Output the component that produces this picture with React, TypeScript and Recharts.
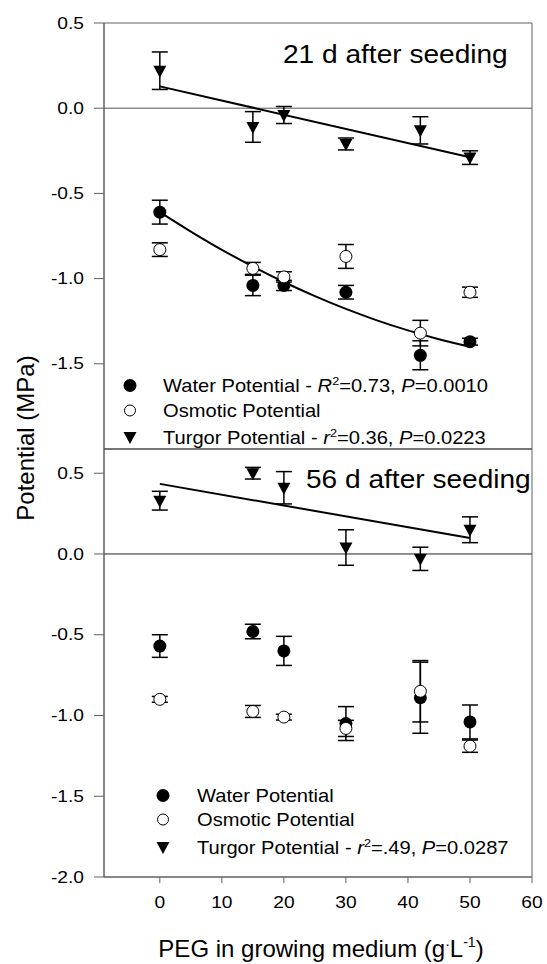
import React from 'react';
import {
  ComposedChart,
  Scatter,
  Line,
  XAxis,
  YAxis,
  ErrorBar,
  ReferenceLine,
  ReferenceArea,
} from 'recharts';

// PEG concentration (g/L)
const peg = [0, 15, 20, 30, 42, 50];

// 21 d after seeding
const water21 = [-0.61, -1.04, -1.04, -1.08, -1.45, -1.37];
const water21Err = [0.07, 0.06, 0.03, 0.04, 0.085, 0.02];
const osmotic21 = [-0.83, -0.94, -0.99, -0.87, -1.32, -1.08];
const osmotic21Err = [0.04, 0.035, 0.03, 0.07, 0.075, 0.03];
const turgor21 = [0.22, -0.11, -0.04, -0.21, -0.13, -0.29];
const turgor21Err = [0.11, 0.09, 0.05, 0.035, 0.08, 0.04];

// 56 d after seeding
const water56 = [-0.57, -0.48, -0.6, -1.05, -0.89, -1.04];
const water56Err = [0.07, 0.045, 0.09, 0.105, 0.22, 0.105];
const osmotic56 = [-0.9, -0.975, -1.01, -1.08, -0.85, -1.19];
const osmotic56Err = [0.018, 0.037, 0.018, 0.05, 0.19, 0.038];
const turgor56 = [0.33, 0.5, 0.41, 0.04, -0.03, 0.15];
const turgor56Err = [0.058, 0.036, 0.1, 0.11, 0.072, 0.08];

// fitted lines
const waterFitX = [0, 5, 10, 15, 20, 25, 30, 35, 40, 45, 50];
const waterFit21 = [-0.61, -0.724, -0.831, -0.929, -1.02, -1.103, -1.178, -1.245, -1.304, -1.356, -1.4];
const turgorFitX = [0, 50];
const turgorFit21 = [0.128, -0.288];
const turgorFit56 = [0.434, 0.099];

const xTicks = [0, 10, 20, 30, 40, 50, 60];
const yTicks = [-2, -1.5, -1, -0.5, 0, 0.5];

const FONT = "'Liberation Sans', Arial, sans-serif";
const AXIS = '#606060';

const rows = (vals: number[], errs: number[]) =>
  peg.map((x, i) => ({ x, y: vals[i], err: errs[i] }));
const fit = (xs: number[], ys: number[]) => xs.map((x, i) => ({ x, y: ys[i] }));

const FilledDot = (p: any) => <circle cx={p.cx} cy={p.cy} r={6.5} fill="#000" />;
const OpenDot = (p: any) => (
  <circle cx={p.cx} cy={p.cy} r={6} fill="#fff" stroke="#000" strokeWidth={1} />
);
const Tri = (p: any) => (
  <path
    d={`M${p.cx - 6.5},${p.cy - 5}L${p.cx + 6.5},${p.cy - 5}L${p.cx},${p.cy + 7}Z`}
    fill="#000"
  />
);

const YTick = ({ x, y, payload }: any) => (
  <g transform={`translate(${x},${y})`}>
    <text transform="scale(1.2,1)" textAnchor="end" dy="0.355em" fontSize={16} fontFamily={FONT} fill="#000">
      {Number(payload.value).toFixed(1)}
    </text>
  </g>
);

const XTick = ({ x, y, payload }: any) => (
  <g transform={`translate(${x},${y})`}>
    <text transform="scale(1.2,1)" textAnchor="middle" dy="0.71em" fontSize={16} fontFamily={FONT} fill="#000">
      {payload.value}
    </text>
  </g>
);

const errBar = <ErrorBar dataKey="err" direction="y" width={8} stroke="#000" strokeWidth={1.5} />;

// "<name> - r²=<v>, P=<p>" legend label
const StatLabel = ({ name, r, rv, pv }: any) => (
  <>
    {name} - <tspan fontStyle="italic">{r}</tspan>
    <tspan dy={-7} fontSize={11}>2</tspan>
    <tspan dy={7}>={rv}, </tspan>
    <tspan fontStyle="italic">P</tspan>
    <tspan>={pv}</tspan>
  </>
);

function LegendRow({ x, y, mx, kind, children }: any) {
  return (
    <g>
      {kind === 'w' && <circle cx={mx} cy={y - 6.5} r={6.5} fill="#000" />}
      {kind === 'o' && <circle cx={mx} cy={y - 6.5} r={5.5} fill="#fff" stroke="#000" />}
      {kind === 't' && (
        <path d={`M${mx - 6.5},${y - 12}L${mx + 6.5},${y - 12}L${mx},${y}Z`} fill="#000" />
      )}
      <g transform={`translate(${x},${y}) scale(1.15,1)`}>
        <text x={0} y={0} fontSize={17.5} fontFamily={FONT} fill="#000">
          {children}
        </text>
      </g>
    </g>
  );
}

export default function App() {
  const w21 = rows(water21, water21Err);
  const o21 = rows(osmotic21, osmotic21Err);
  const t21 = rows(turgor21, turgor21Err);
  const w56 = rows(water56, water56Err);
  const o56 = rows(osmotic56, osmotic56Err);
  const t56 = rows(turgor56, turgor56Err);

  return (
    <div style={{ position: 'absolute', left: 0, top: 0, width: 547, height: 964, background: '#fff' }}>
      <div style={{ position: 'absolute', left: 0, top: 0 }}>
        <ComposedChart width={547} height={450} margin={{ top: 23, right: 15, bottom: 1, left: 0 }}>
          <XAxis
            dataKey="x"
            type="number"
            domain={[-9, 60]}
            allowDataOverflow
            ticks={xTicks}
            mirror
            tick={false}
            tickSize={5}
            stroke={AXIS}
          />
          <YAxis
            type="number"
            domain={[-2, 0.5]}
            allowDataOverflow
            ticks={yTicks}
            width={104}
            tickSize={10}
            tickMargin={10}
            tick={<YTick />}
            stroke={AXIS}
          />
          <ReferenceArea x1={-9} x2={60} y1={-2} y2={0.5} fill="none" stroke={AXIS} ifOverflow="visible" />
          <ReferenceLine y={0} stroke="#555" strokeWidth={1} />
          <Line data={fit(turgorFitX, turgorFit21)} dataKey="y" type="linear" stroke="#000" strokeWidth={2} dot={false} isAnimationActive={false} />
          <Line data={fit(waterFitX, waterFit21)} dataKey="y" type="monotone" stroke="#000" strokeWidth={2} dot={false} isAnimationActive={false} />
          <Scatter data={w21} dataKey="y" shape={<FilledDot />} isAnimationActive={false}>
            {errBar}
          </Scatter>
          <Scatter data={o21} dataKey="y" shape={<OpenDot />} isAnimationActive={false}>
            {errBar}
          </Scatter>
          <Scatter data={t21} dataKey="y" shape={<Tri />} isAnimationActive={false}>
            {errBar}
          </Scatter>
        </ComposedChart>
      </div>

      <div style={{ position: 'absolute', left: 0, top: 448 }}>
        <ComposedChart width={547} height={516} margin={{ top: 1, right: 15, bottom: 0, left: 0 }}>
          <XAxis
            dataKey="x"
            type="number"
            domain={[-9, 60]}
            allowDataOverflow
            ticks={xTicks}
            height={87}
            tickSize={6}
            tickMargin={14}
            tick={<XTick />}
            stroke={AXIS}
          />
          <YAxis
            type="number"
            domain={[-2, 0.65]}
            allowDataOverflow
            ticks={yTicks}
            width={104}
            tickSize={10}
            tickMargin={10}
            tick={<YTick />}
            stroke={AXIS}
          />
          <ReferenceArea x1={-9} x2={60} y1={-2} y2={0.65} fill="none" stroke={AXIS} ifOverflow="visible" />
          <ReferenceLine y={0} stroke="#222" strokeWidth={1} />
          <Line data={fit(turgorFitX, turgorFit56)} dataKey="y" type="linear" stroke="#000" strokeWidth={2} dot={false} isAnimationActive={false} />
          <Scatter data={w56} dataKey="y" shape={<FilledDot />} isAnimationActive={false}>
            {errBar}
          </Scatter>
          <Scatter data={o56} dataKey="y" shape={<OpenDot />} isAnimationActive={false}>
            {errBar}
          </Scatter>
          <Scatter data={t56} dataKey="y" shape={<Tri />} isAnimationActive={false}>
            {errBar}
          </Scatter>
        </ComposedChart>
      </div>

      <svg
        width={547}
        height={964}
        style={{ position: 'absolute', left: 0, top: 0, pointerEvents: 'none' }}
      >
        <g transform="translate(283,63) scale(1.08,1)">
          <text fontSize={26} fontFamily={FONT} fill="#000">21 d after seeding</text>
        </g>
        <g transform="translate(306,488) scale(1.08,1)">
          <text fontSize={26} fontFamily={FONT} fill="#000">56 d after seeding</text>
        </g>

        <LegendRow x={163} y={392} mx={130} kind="w">
          <StatLabel name="Water Potential" r="R" rv="0.73" pv="0.0010" />
        </LegendRow>
        <LegendRow x={163} y={417} mx={130} kind="o">
          Osmotic Potential
        </LegendRow>
        <LegendRow x={163} y={444} mx={130} kind="t">
          <StatLabel name="Turgor Potential" r="r" rv="0.36" pv="0.0223" />
        </LegendRow>

        <LegendRow x={197} y={802} mx={163} kind="w">
          Water Potential
        </LegendRow>
        <LegendRow x={197} y={826} mx={163} kind="o">
          Osmotic Potential
        </LegendRow>
        <LegendRow x={197} y={854} mx={163} kind="t">
          <StatLabel name="Turgor Potential" r="r" rv=".49" pv="0.0287" />
        </LegendRow>

        <text
          transform="translate(25,438) rotate(-90)"
          textAnchor="middle"
          dominantBaseline="central"
          fontSize={24}
          fontFamily={FONT}
          fill="#000"
        >
          Potential (MPa)
        </text>

        <text x={321} y={957} textAnchor="middle" fontSize={24} fontFamily={FONT} fill="#000">
          PEG in growing medium (g<tspan fontSize={14} dy={-8}>·</tspan>
          <tspan dy={8}>L</tspan>
          <tspan fontSize={14} dy={-10}>-1</tspan>
          <tspan dy={10}>)</tspan>
        </text>
      </svg>
    </div>
  );
}
